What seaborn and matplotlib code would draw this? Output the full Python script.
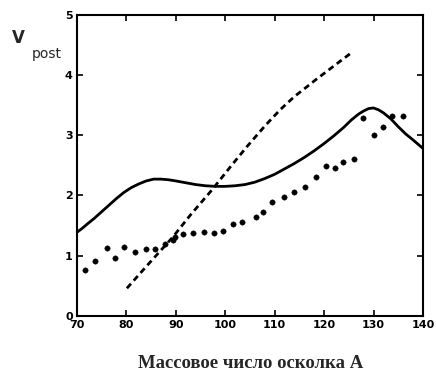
import matplotlib
matplotlib.use("Agg")
from matplotlib import pyplot as plt
import pandas as pd
import seaborn as sns

# experimental points
exp_a = [71.6, 73.6, 76.1, 77.7, 79.5, 81.7, 84.0, 85.8, 87.8, 89.4, 89.8, 91.4,
         93.5, 95.7, 97.7, 99.5, 101.6, 103.4, 106.2, 107.6, 109.5, 111.9, 113.9,
         116.1, 118.4, 120.4, 122.2, 123.8, 126.0, 127.9, 130.1, 131.9, 133.7, 136.0]
exp_v = [0.76, 0.91, 1.13, 0.96, 1.14, 1.06, 1.11, 1.11, 1.19, 1.26, 1.31, 1.36,
         1.38, 1.39, 1.38, 1.41, 1.53, 1.56, 1.64, 1.73, 1.89, 1.98, 2.06,
         2.14, 2.31, 2.49, 2.46, 2.56, 2.61, 3.29, 3.01, 3.14, 3.31, 3.31]

# solid curve
solid_a = [70, 71, 72, 73.5, 75, 76.5, 78, 79.5, 81, 82.5, 84, 85.5, 87, 88.5, 90,
           92, 94, 96, 98, 100, 102, 104, 106, 108, 110, 112, 114, 116, 118, 120,
           122, 124, 125.5, 127, 128, 129, 130, 131, 132, 133.5, 135, 136.5, 138, 140]
solid_v = [1.39, 1.45, 1.52, 1.62, 1.73, 1.84, 1.95, 2.05, 2.13, 2.19, 2.24, 2.27,
           2.27, 2.26, 2.24, 2.21, 2.18, 2.16, 2.15, 2.15, 2.16, 2.18, 2.22, 2.28,
           2.35, 2.44, 2.53, 2.63, 2.74, 2.86, 2.99, 3.13, 3.25, 3.35, 3.40, 3.44,
           3.45, 3.42, 3.37, 3.27, 3.14, 3.02, 2.92, 2.78]

# dashed curve
dash_a = [80.1, 84, 89.4, 93, 97.3, 101, 104.4, 108, 111.1, 114, 116.5, 118.5, 120.6, 123, 125.6]
dash_v = [0.46, 0.82, 1.31, 1.68, 2.09, 2.47, 2.81, 3.15, 3.42, 3.64, 3.80, 3.93, 4.06, 4.21, 4.37]

sns.set_style("ticks")
plt.rcParams['font.family'] = ['DejaVu Sans']

fig = plt.figure(figsize=(4.36, 3.72), dpi=100)
ax = fig.add_axes([0.1766, 0.1505, 0.7934, 0.8105])

sns.lineplot(x=solid_a, y=solid_v, ax=ax, color='black', linewidth=2, sort=False)
sns.lineplot(x=dash_a, y=dash_v, ax=ax, color='black', linewidth=2, sort=False,
             linestyle=(0, (2.2, 1.5)))
sns.scatterplot(x=exp_a, y=exp_v, ax=ax, color='black', s=15, marker='o',
                edgecolor='black', linewidth=0.3)

ax.set_xlim(70, 140)
ax.set_ylim(0, 5)
ax.set_xticks(range(70, 141, 10))
ax.set_yticks(range(0, 6))
ax.tick_params(direction='in', length=4, width=1.2, top=True, right=True,
               labelsize=8, pad=3, colors='black')
for lab in ax.get_xticklabels() + ax.get_yticklabels():
    lab.set_fontweight('bold')
for sp in ax.spines.values():
    sp.set_linewidth(1.5)
    sp.set_color('black')
    sp.set_visible(True)

ax.set_xlabel('')
ax.set_ylabel('')
fig.text(251 / 436, 1 - 364 / 372, 'Массовое число осколка А', ha='center', va='center',
         fontsize=13.5, fontweight='bold', family=['Liberation Serif', 'DejaVu Serif'])
fig.text(12 / 436, 1 - 38 / 372, 'V', ha='left', va='center', fontsize=12,
         fontweight='bold')
fig.text(32 / 436, 1 - 54 / 372, 'post', ha='left', va='center', fontsize=10)

fig.savefig('out.png', dpi=100)
